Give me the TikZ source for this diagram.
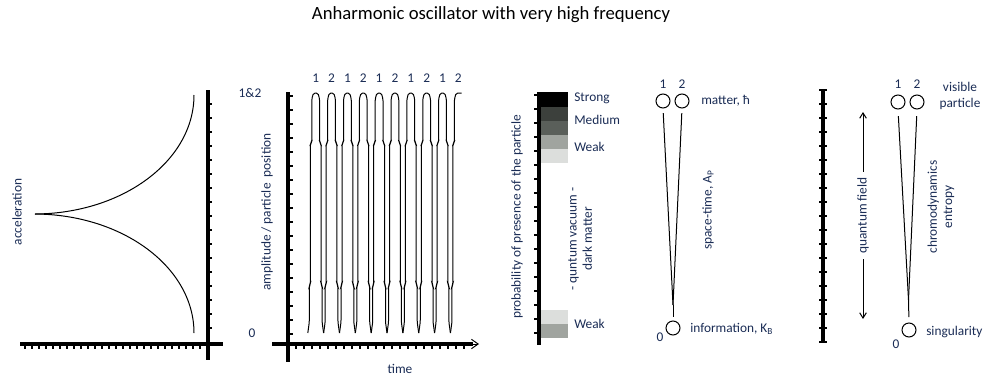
\documentclass[tikz,border=0pt]{standalone}
\usepackage{fontspec}
\setmainfont{Carlito}
\usetikzlibrary{arrows.meta}
\usetikzlibrary{positioning}

\definecolor{labelblue}{HTML}{1A2C55}
\definecolor{shadeA}{HTML}{3C403C}
\definecolor{shadeB}{HTML}{5A5F5A}
\definecolor{shadeC}{HTML}{A0A49F}
\definecolor{shadeD}{HTML}{DCDEDC}

\tikzset{
  lbl/.style={text=labelblue, font=\fontsize{10}{11.5}\selectfont, inner sep=0pt},
  axisline/.style={line width=2.3pt},
  tickline/.style={line width=0.8pt},
  curve/.style={line width=0.75pt},
  ball/.style={circle, draw, line width=0.75pt, minimum size=10.5pt, inner sep=0pt},
}

\begin{document}
\begin{tikzpicture}[x=0.75pt, y=-0.75pt]
  \useasboundingbox (0,0) rectangle (1000,386);

  \node[font=\fontsize{14}{16}\selectfont] (title) at (491,15) {Anharmonic oscillator with very high frequency};

  % acceleration
  \draw[axisline] (20,344) -- (223,344);
  \draw[axisline] (208,90) -- (208,360);
  \foreach \y in {104,118,...,340} \draw[tickline] (208,\y) -- (212,\y);
  \foreach \x in {25,32,...,200} \draw[tickline] (\x,344) -- (\x,349);
  \draw[curve] (35,214) .. controls (122.8,213.5) and (194,160.7) .. (194,95);
  \draw[curve] (35,214) .. controls (122.8,214.5) and (194,267.3) .. (194,333);
  \node[lbl, rotate=90] (accel) at (17,212) {acceleration};

  % amplitude over time
  \draw[axisline] (272,344) -- (473,344);
  \draw[axisline] (288,92) -- (288,362);
  \coordinate (tend) at (470,344);
  \coordinate (tip) at (479,344);
  \draw[curve, -{Straight Barb[length=5pt, width=7pt]}] (tend) -- (tip);
  \foreach \y in {96,110,...,334} \draw[tickline] (288,\y) -- (293,\y);
  \foreach \x in {296,304,...,470} \draw[tickline] (\x,344) -- (\x,349);
  \foreach \k in {0,...,8} {
    \pgfmathsetmacro{\c}{315.7+15.85*\k}
    \draw[curve, rounded corners=1.2pt]
      ({\c-7.9},333) -- ({\c-6.4},322) -- ({\c-6.4},286) -- ({\c-5.4},284)
      -- ({\c-5.4},144) -- ({\c-3.9},142) -- ({\c-3.9},99) -- ({\c-2.2},93)
      -- ({\c+2.2},93) -- ({\c+3.9},99) -- ({\c+3.9},142) -- ({\c+5.4},144)
      -- ({\c+5.4},284) -- ({\c+6.4},286) -- ({\c+6.4},322) -- ({\c+7.9},333);
  }
  \pgfmathsetmacro{\c}{315.7+15.85*9}
  \draw[curve, rounded corners=1.2pt]
    ({\c-7.9},333) -- ({\c-6.4},322) -- ({\c-6.4},286) -- ({\c-5.4},284)
    -- ({\c-5.4},144) -- ({\c-3.9},142) -- ({\c-3.9},99) -- ({\c-2.2},93)
    -- ({\c+3.3},93);
  \foreach \k in {0,2,4,6,8} {
    \node[lbl] (one\k) at ({315.7+15.85*\k},78) {1};
    \node[lbl] (two\k) at ({315.7+15.85*(\k+1)},78) {2};
  }
  \node[lbl] (top12) at (250,93) {1\&2};
  \node[lbl] (zero2) at (252,333) {0};
  \node[lbl, rotate=90] (ampl) at (267,212) {amplitude / particle\ \ position};
  \node[lbl] (time) at (400,369) {time};

  % probability of presence
  \fill[black]  (539,92) rectangle (568,106.7);
  \fill[shadeA] (539,106.7) rectangle (568,121);
  \fill[shadeB] (539,121) rectangle (568,135);
  \fill[shadeC] (539,135) rectangle (568,149);
  \fill[shadeD] (539,149) rectangle (568,163);
  \fill[shadeD] (539,310) rectangle (568,324);
  \fill[shadeC] (539,324) rectangle (568,337.7);
  \draw[axisline] (539,92) -- (539,345);
  \foreach \y in {95,109,...,340} \draw[tickline] (534,\y) -- (539,\y);
  \node[lbl, anchor=west] (strong) at (574,98) {Strong};
  \node[lbl, anchor=west] (medium) at (574,120) {Medium};
  \node[lbl, anchor=west] (weak1) at (574,147) {Weak};
  \node[lbl, anchor=west] (weak2) at (574,324) {Weak};
  \node[lbl, rotate=90] (prob) at (517,217) {probability of presence of the particle};
  \node[lbl, rotate=90, align=center] (vacuum) at (580,239) {- quntum vacuum -\\dark matter};

  % space-time cone
  \node[ball] (m1) at (663,101) {};
  \node[ball] (m2) at (682,101) {};
  \node[ball] (info) at (673,328) {};
  \coordinate (meetA) at (673,305);
  \draw[curve, shorten <=3.5pt] (m1.south) -- (meetA);
  \draw[curve, shorten <=3.5pt] (m2.south) -- (meetA);
  \draw[curve, shorten >=3pt] (meetA) -- (info.north);
  \node[lbl] (n1a) at (663,84) {1};
  \node[lbl] (n2a) at (682,84) {2};
  \node[lbl] (n0a) at (660,337) {0};
  \node[lbl, anchor=west] (matter) at (701,101) {matter, ħ};
  \node[lbl, anchor=west] (information) at (690,329) {information, K\textsubscript{B}};
  \node[lbl, rotate=90] (spacetime) at (708,210) {space-time, A\textsubscript{P}};

  % quantum field cone
  \draw[axisline] (823,89) -- (823,342);
  \foreach \y in {90,104,...,342} \draw[tickline] (819,\y) -- (827,\y);
  \coordinate (qtop) at (863,112);
  \coordinate (qbot) at (863,319);
  \draw[curve, {Straight Barb[length=4pt, width=5pt]}-{Straight Barb[length=4pt, width=5pt]}] (qtop) -- (qbot)
    node[lbl, midway, rotate=90, fill=white, inner xsep=4pt] (qfield) {quantum field};
  \node[ball] (p1) at (898,102) {};
  \node[ball] (p2) at (917,102) {};
  \node[ball] (sing) at (909,330) {};
  \coordinate (meetB) at (908.5,300);
  \draw[curve, shorten <=5pt] (p1.south) -- (meetB);
  \draw[curve, shorten <=5pt] (p2.south) -- (meetB);
  \draw[curve, shorten >=4pt] (meetB) -- (sing.north);
  \node[lbl] (n1b) at (898,84) {1};
  \node[lbl] (n2b) at (917,84) {2};
  \node[lbl] (n0b) at (896,344) {0};
  \node[lbl, align=center] (visible) at (960,96) {visible\\particle};
  \node[lbl, anchor=west] (singularity) at (926,332) {singularity};
  \node[lbl, rotate=90, align=center] (chromo) at (941,207) {chromodynamics\\entropy};
\end{tikzpicture}
\end{document}
